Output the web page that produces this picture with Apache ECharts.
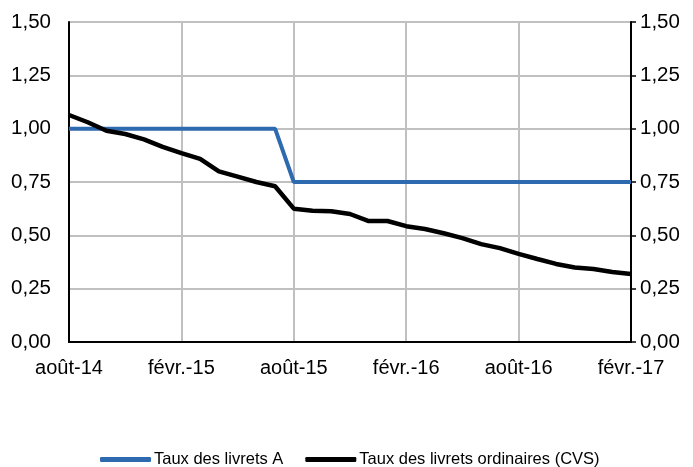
<!DOCTYPE html>
<html><head><meta charset="utf-8">
<script src="https://cdn.jsdelivr.net/npm/echarts@6/dist/echarts.min.js"></script>
<style>html,body{margin:0;padding:0;background:#fff}#c{width:693px;height:467px}</style>
</head><body><div id="c"></div>
<script>
var months = ['août-14','sept.-14','oct.-14','nov.-14','déc.-14','janv.-15','févr.-15','mars-15','avr.-15','mai-15','juin-15','juil.-15',
'août-15','sept.-15','oct.-15','nov.-15','déc.-15','janv.-16','févr.-16','mars-16','avr.-16','mai-16','juin-16','juil.-16',
'août-16','sept.-16','oct.-16','nov.-16','déc.-16','janv.-17','févr.-17'];
var livretA = [1,1,1,1,1,1,1,1,1,1,1,1,0.75,0.75,0.75,0.75,0.75,0.75,0.75,0.75,0.75,0.75,0.75,0.75,0.75,0.75,0.75,0.75,0.75,0.75,0.75];
var livretsOrd = [1.064,1.03,0.99,0.975,0.95,0.915,0.885,0.858,0.80,0.775,0.75,0.73,
0.625,0.615,0.613,0.60,0.567,0.567,0.543,0.53,0.51,0.487,0.459,0.44,
0.413,0.389,0.366,0.349,0.342,0.328,0.319];
var yTicks = [0,0.25,0.5,0.75,1,1.25,1.5];
var fmt = function(v){return v.toFixed(2).replace('.',',');};
var font = 'Liberation Sans, Arial, sans-serif';
var chart = echarts.init(document.getElementById('c'));
chart.setOption({
  animation:false,
  grid:{left:69,right:62,top:22,bottom:125,containLabel:false},
  legend:{top:446,left:95,itemWidth:51,itemHeight:5,itemGap:22,
    icon:'roundRect',textStyle:{fontFamily:font,fontSize:16.5,color:'#000',padding:[0,0,0,-2]},
    data:['Taux des livrets A','Taux des livrets ordinaires (CVS)']},
  xAxis:[{type:'category',data:months,boundaryGap:false,
    axisLine:{lineStyle:{color:'#000',width:2}},axisTick:{show:false},
    axisLabel:{interval:5,fontFamily:font,fontSize:20,color:'#000',margin:16},
    splitLine:{show:true,interval:5,lineStyle:{color:'#c0c0c0',width:2}}},
    {type:'category',data:months,boundaryGap:false,position:'top',
    axisLine:{lineStyle:{color:'#000',width:2}},axisTick:{show:false},axisLabel:{show:false}}],
  yAxis:[{type:'value',min:0,max:1.5,interval:0.25,position:'left',
    axisLine:{show:true,lineStyle:{color:'#000',width:2}},axisTick:{show:false},
    axisLabel:{formatter:fmt,fontFamily:font,fontSize:20.5,color:'#000',margin:18},
    splitLine:{show:true,lineStyle:{color:'#c0c0c0',width:2}}},
    {type:'value',min:0,max:1.5,interval:0.25,position:'right',
    axisLine:{show:true,lineStyle:{color:'#000',width:2}},axisTick:{show:true,length:5,lineStyle:{color:'#000',width:1.5}},
    axisLabel:{formatter:fmt,fontFamily:font,fontSize:20.5,color:'#000',margin:9},
    splitLine:{show:false}}],
  series:[
    {name:'Taux des livrets A',type:'line',data:livretA,showSymbol:false,
      lineStyle:{color:'#2e6aaf',width:4},itemStyle:{color:'#2e6aaf'}},
    {name:'Taux des livrets ordinaires (CVS)',type:'line',data:livretsOrd,showSymbol:false,
      lineStyle:{color:'#000',width:4.5},itemStyle:{color:'#000'}}
  ]
});
</script></body></html>
